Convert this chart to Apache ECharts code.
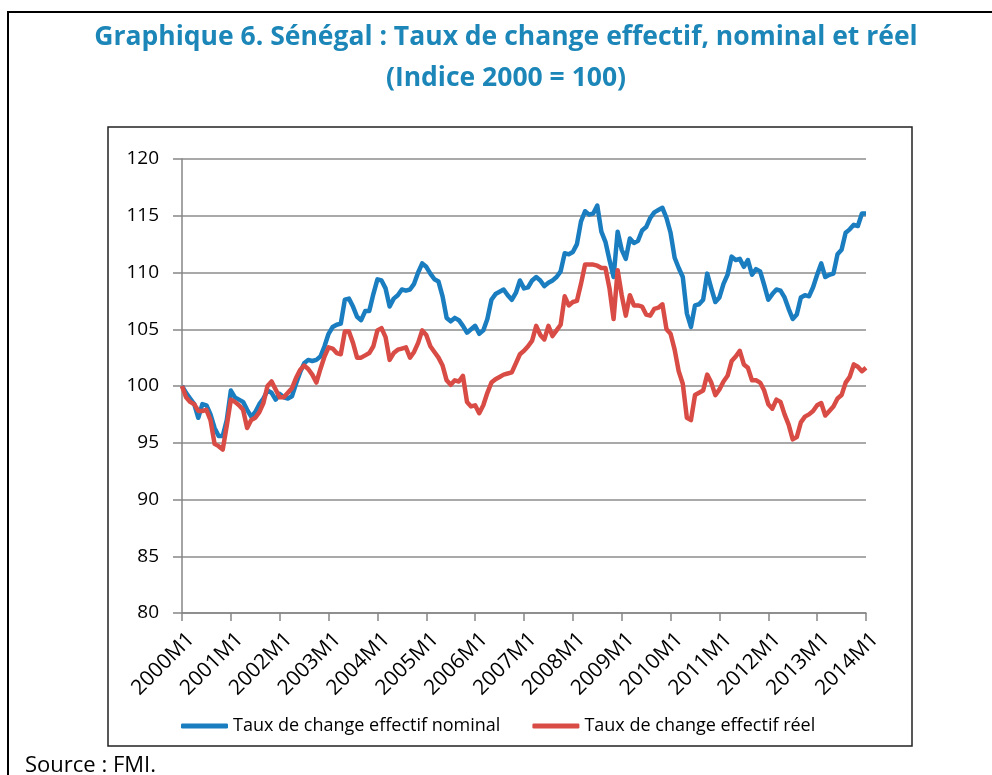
<!DOCTYPE html>
<html>
<head>
<meta charset="utf-8">
<script src="https://cdn.jsdelivr.net/npm/echarts@6/dist/echarts.min.js"></script>
<style>
html, body { margin: 0; padding: 0; background: #fff; }
#main { width: 992px; height: 775px; }
</style>
</head>
<body>
<div id="main"></div>
<script>
// indices mensuels 2000M1 - 2014M1 (Indice 2000 = 100)
var firstYear = 2000, lastYear = 2014;
var months = [];
for (var y = firstYear; y <= lastYear; y++) {
	for (var m = 1; m <= 12; m++) {
		if (y == lastYear && m > 1) break;
		months.push(y + 'M' + m);
	}
}

var nominal = [
	100.0, 99.4, 98.9, 98.4, 97.2, 98.4, 98.3, 97.5, 96.3, 95.6, 95.6, 97.0,
	99.6, 99.0, 98.8, 98.6, 97.9, 97.3, 97.7, 98.4, 98.9, 99.6, 99.4, 98.8,
	99.3, 99.0, 98.9, 99.1, 100.2, 101.2, 102.0, 102.3, 102.2, 102.3, 102.6, 103.5,
	104.6, 105.2, 105.4, 105.5, 107.6, 107.7, 107.0, 106.1, 105.8, 106.6, 106.6, 108.1,
	109.4, 109.3, 108.6, 107.0, 107.7, 108.0, 108.5, 108.4, 108.5, 109.0, 110.0, 110.8,
	110.5, 109.9, 109.4, 109.2, 107.9, 106.0, 105.7, 106.0, 105.8, 105.3, 104.7, 105.0,
	105.3, 104.6, 104.9, 105.9, 107.6, 108.1, 108.3, 108.5, 108.0, 107.6, 108.2, 109.3,
	108.6, 108.7, 109.3, 109.6, 109.3, 108.8, 109.1, 109.3, 109.6, 110.1, 111.7, 111.6,
	111.8, 112.5, 114.5, 115.4, 115.1, 115.2, 115.9, 113.6, 112.7, 111.1, 109.6, 113.6,
	112.0, 111.2, 113.0, 112.6, 112.8, 113.7, 114.0, 114.8, 115.3, 115.5, 115.7, 114.8,
	113.5, 111.3, 110.4, 109.6, 106.4, 105.2, 107.1, 107.2, 107.6, 109.9, 108.6, 107.4,
	107.8, 109.0, 109.8, 111.4, 111.1, 111.2, 110.5, 111.1, 109.8, 110.3, 110.1, 108.9,
	107.6, 108.1, 108.5, 108.4, 107.8, 106.8, 105.9, 106.3, 107.8, 108.0, 107.9, 108.7,
	109.8, 110.8, 109.6, 109.8, 109.9, 111.6, 112.0, 113.5, 113.8, 114.2, 114.1, 115.2,
	115.2
];

var reel = [
	100.0, 99.0, 98.6, 98.4, 97.8, 97.8, 97.9, 97.0, 94.9, 94.7, 94.4, 96.5,
	98.8, 98.6, 98.3, 97.9, 96.3, 97.0, 97.2, 97.7, 98.5, 100.0, 100.4, 99.7,
	99.0, 99.0, 99.4, 99.8, 100.7, 101.4, 101.8, 101.5, 101.0, 100.3, 101.5, 102.6,
	103.4, 103.3, 102.9, 102.8, 104.8, 104.8, 103.8, 102.5, 102.5, 102.7, 102.9, 103.5,
	104.9, 105.1, 104.3, 102.3, 102.9, 103.2, 103.3, 103.4, 102.5, 103.0, 103.8, 104.9,
	104.5, 103.5, 103.0, 102.5, 101.8, 100.5, 100.1, 100.5, 100.4, 100.9, 98.6, 98.2,
	98.3, 97.6, 98.3, 99.4, 100.3, 100.6, 100.8, 101.0, 101.1, 101.2, 102.0, 102.8,
	103.1, 103.5, 104.0, 105.3, 104.5, 104.1, 105.3, 104.4, 104.9, 105.4, 107.9, 107.1,
	107.4, 107.5, 109.0, 110.7, 110.7, 110.7, 110.6, 110.4, 110.4, 108.6, 105.9, 110.2,
	108.0, 106.2, 108.0, 107.1, 107.1, 107.0, 106.3, 106.2, 106.8, 106.9, 107.2, 105.0,
	104.6, 103.2, 101.3, 100.2, 97.2, 97.0, 99.2, 99.4, 99.6, 101.0, 100.3, 99.2,
	99.7, 100.4, 100.9, 102.2, 102.6, 103.1, 101.9, 101.6, 100.5, 100.5, 100.3, 99.6,
	98.4, 98.0, 98.8, 98.6, 97.5, 96.6, 95.3, 95.5, 96.8, 97.3, 97.5, 97.8,
	98.3, 98.5, 97.4, 97.8, 98.2, 98.9, 99.2, 100.3, 100.8, 101.9, 101.7, 101.3,
	101.6
];

var yMin = 80, yMax = 120, yStep = 5;
var titleText = 'Graphique 6. Sénégal : Taux de change effectif, nominal et réel\n(Indice 2000 = 100)';
var nameNominal = 'Taux de change effectif nominal',
	nameReel = 'Taux de change effectif réel';

var everyYear = function (i) { return i % 12 === 0; };

var myChart = echarts.init(document.getElementById('main'));
var option = {
	backgroundColor: '#fff',
	animation: false,
	title: {
		text: titleText,
		left: 501,
		top: 12,
		textAlign: 'center',
		textStyle: {
			fontFamily: 'Open Sans',
			fontWeight: 'bold',
			fontSize: 26.5,
			lineHeight: 41,
			color: '#1b86b7'
		}
	},
	legend: {
		bottom: 35,
		left: 176,
		itemWidth: 47,
		itemHeight: 5,
		itemGap: 32,
		icon: 'roundRect',
		textStyle: { fontFamily: 'Open Sans', fontSize: 18, color: '#000' },
		data: [nameNominal, nameReel]
	},
	grid: { left: 182, right: 126, top: 159, bottom: 162, containLabel: false },
	xAxis: {
		type: 'category',
		data: months,
		boundaryGap: false,
		axisLine: { lineStyle: { color: '#868686', width: 1.5 } },
		axisTick: { interval: everyYear, length: 8, lineStyle: { color: '#868686', width: 1.5 } },
		// étiquettes dessinées plus bas (rotation 45°)
		axisLabel: { show: false },
		splitLine: { show: false }
	},
	yAxis: {
		type: 'value',
		min: yMin,
		max: yMax,
		interval: yStep,
		axisLine: { show: true, lineStyle: { color: '#868686', width: 1.5 } },
		axisTick: { show: true, length: 9, lineStyle: { color: '#868686', width: 1.5 } },
		axisLabel: { margin: 23, fontFamily: 'Open Sans', fontSize: 19, color: '#000' },
		splitLine: { lineStyle: { color: '#8c8c8c', width: 1.5 } }
	},
	series: [{
		name: nameNominal,
		type: 'line',
		data: nominal,
		showSymbol: false,
		lineStyle: { color: '#1a7dc0', width: 4.5, join: 'round' },
		itemStyle: { color: '#1a7dc0' }
	}, {
		name: nameReel,
		type: 'line',
		data: reel,
		showSymbol: false,
		lineStyle: { color: '#d94b45', width: 4.5, join: 'round' },
		itemStyle: { color: '#d94b45' }
	}]
};
myChart.setOption(option);

var graphics = [
	// cadre extérieur
	{ type: 'polyline', shape: { points: [[992, 12], [8, 12], [8, 775]] },
		style: { stroke: '#000', lineWidth: 2, fill: null } },
	// cadre du graphique
	{ type: 'rect', shape: { x: 108, y: 127, width: 804, height: 619 },
		style: { stroke: '#222', lineWidth: 1.5, fill: null } },
	{ type: 'text', left: 25, top: 755,
		style: { text: 'Source : FMI.', font: '22px "Open Sans"', fill: '#000' } }
];
var yBase = myChart.convertToPixel({ yAxisIndex: 0 }, yMin);
months.forEach(function (lab, i) {
	if (!everyYear(i)) return;
	var px = myChart.convertToPixel({ xAxisIndex: 0 }, i);
	graphics.push({
		type: 'text',
		x: px + 9,
		y: yBase + 23,
		rotation: Math.PI / 4,
		style: {
			text: lab,
			font: '21px "Open Sans"',
			fill: '#000',
			align: 'right',
			verticalAlign: 'middle'
		}
	});
});
myChart.setOption({ graphic: graphics });
</script>
</body>
</html>
